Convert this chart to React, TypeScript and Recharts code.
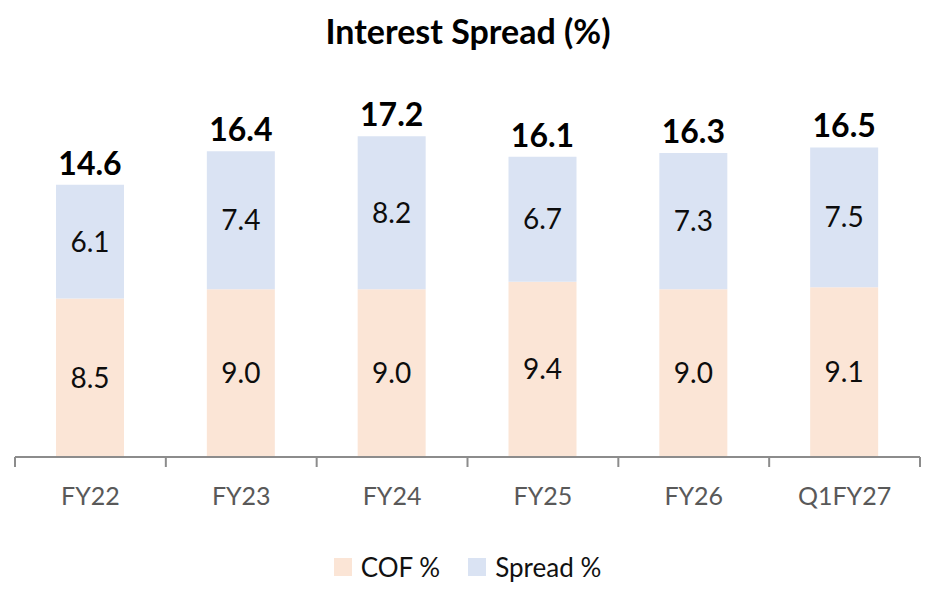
import React from 'react';
import { BarChart, Bar, XAxis, YAxis, Legend, LabelList } from 'recharts';

const categories = ['FY22', 'FY23', 'FY24', 'FY25', 'FY26', 'Q1FY27'];
const cofValues = [8.5, 9.0, 9.0, 9.4, 9.0, 9.1];
const spreadValues = [6.1, 7.4, 8.2, 6.7, 7.3, 7.5];
const totalValues = [14.6, 16.4, 17.2, 16.1, 16.3, 16.5];

const COF_COLOR = '#FBE5D6';
const SPREAD_COLOR = '#DAE3F3';
const FONT = 'Lato, "Open Sans", sans-serif';

const data = categories.map((name, i) => ({
  name,
  cof: cofValues[i],
  spread: spreadValues[i],
  total: totalValues[i],
}));

const CategoryTick = (props: any) => {
  const { x, y, payload, index, visibleTicksCount } = props;
  const half = payload && typeof payload.offset === 'number' && payload.offset > 0 ? payload.offset : 75.4;
  const isLast = index === visibleTicksCount - 1;
  return (
    <g>
      <line x1={x - half} y1={y} x2={x - half} y2={y + 10} stroke="#8C8C8C" strokeWidth={2} />
      {isLast && <line x1={x + half} y1={y} x2={x + half} y2={y + 10} stroke="#8C8C8C" strokeWidth={2} />}
      <text x={x} y={y + 48} textAnchor="middle" fill="#595959" fontSize={25} fontFamily={FONT}>
        {payload.value}
      </text>
    </g>
  );
};

const LegendContent = (props: any) => {
  const { payload } = props;
  return (
    <div style={{ height: 50, display: 'flex', justifyContent: 'center', alignItems: 'center', paddingTop: 16, boxSizing: 'border-box' }}>
      {(payload || []).map((p: any, i: number) => (
        <div key={i} style={{ display: 'flex', alignItems: 'center', marginRight: i === 0 ? 28 : 0 }}>
          <span style={{ display: 'inline-block', width: 18, height: 18, background: p.color, marginRight: 9 }} />
          <span style={{ fontFamily: FONT, fontSize: 26, color: '#111' }}>{p.value}</span>
        </div>
      ))}
    </div>
  );
};

export default function App() {
  return (
    <div style={{ position: 'absolute', left: 0, top: 0, width: 936, height: 594, background: '#fff' }}>
      <div
        style={{
          position: 'absolute',
          left: 0,
          top: 14,
          width: 936,
          textAlign: 'center',
          fontFamily: FONT,
          fontWeight: 700,
          fontSize: 34,
          lineHeight: '34px',
          color: '#000',
          zIndex: 2,
        }}
      >
        Interest Spread (%)
      </div>
      <BarChart
        width={936}
        height={594}
        data={data}
        margin={{ top: 84, right: 16, left: 15, bottom: 10 }}
        barSize={68}
      >
        <XAxis
          dataKey="name"
          height={77}
          axisLine={{ stroke: '#8C8C8C', strokeWidth: 2 }}
          tickLine={false}
          tickSize={0}
          tickMargin={0}
          tick={<CategoryTick />}
          interval={0}
        />
        <YAxis hide domain={[0, 20]} />
        <Legend verticalAlign="bottom" content={<LegendContent />} />
        <Bar dataKey="cof" name="COF %" stackId="a" fill={COF_COLOR} isAnimationActive={false}>
          <LabelList
            dataKey="cof"
            position="center"
            formatter={(v: any) => Number(v).toFixed(1)}
            style={{ fontFamily: FONT, fontSize: 28, fill: '#0d0d0d' }}
          />
        </Bar>
        <Bar dataKey="spread" name="Spread %" stackId="a" fill={SPREAD_COLOR} isAnimationActive={false}>
          <LabelList
            dataKey="spread"
            position="center"
            formatter={(v: any) => Number(v).toFixed(1)}
            style={{ fontFamily: FONT, fontSize: 28, fill: '#0d0d0d' }}
          />
          <LabelList
            dataKey="total"
            position="top"
            offset={10}
            formatter={(v: any) => Number(v).toFixed(1)}
            style={{ fontFamily: FONT, fontSize: 32, fontWeight: 700, fill: '#000' }}
          />
        </Bar>
      </BarChart>
    </div>
  );
}
